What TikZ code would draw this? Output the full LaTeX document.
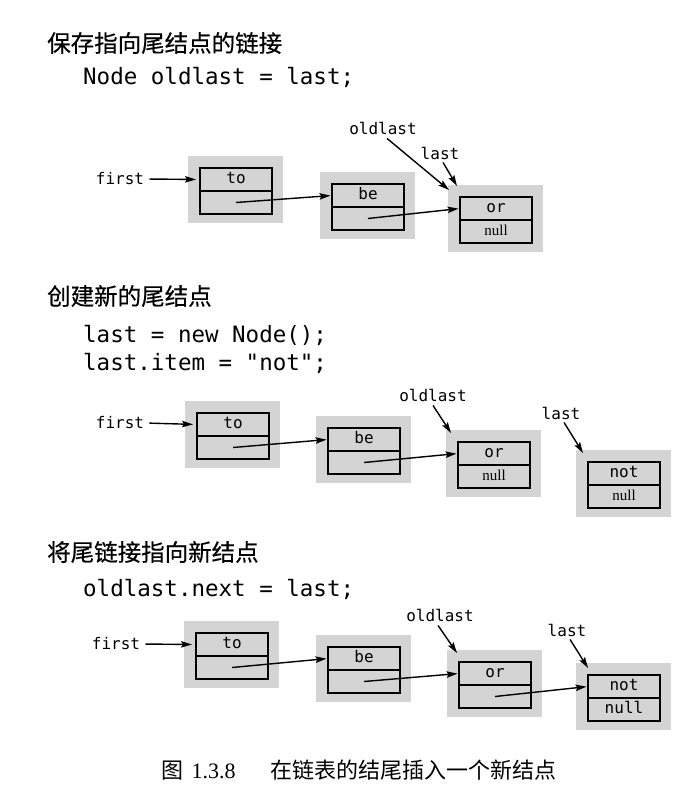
\documentclass[tikz,border=0pt]{standalone}
\usepackage{fontspec}
\newfontfamily\cjk[FakeBold=0.4]{Noto Sans CJK SC}
\newfontfamily\cjkcap{Noto Sans CJK SC}
\newfontfamily\codefont{DejaVu Sans Mono}
\newfontfamily\tnr{Liberation Serif}
\usetikzlibrary{arrows.meta}
\tikzset{
  gbox/.style={fill=black!17, draw=none, minimum width=95pt, minimum height=67pt, inner sep=0pt, outer sep=0pt, anchor=north west},
  field/.style={draw=black, line width=2.1pt, minimum width=72pt, minimum height=23pt, inner sep=0pt, outer sep=0pt, text height=8.5pt, text depth=0pt, font=\codefont\fontsize{16}{16}\selectfont},
  lbl/.style={font=\codefont\fontsize{16}{16}\selectfont, inner sep=1pt},
  ptr/.style={-{Stealth[length=11pt,width=6.5pt,inset=2pt]}, line width=1.4pt},
  title/.style={font=\cjk\fontsize{23.5}{23.5}\selectfont, anchor=west, inner sep=0pt},
  code/.style={font=\codefont\fontsize{22.5}{22.5}\selectfont, anchor=base west, inner sep=0pt},
  caption/.style={font=\fontsize{22}{22}\selectfont, inner sep=0pt}
}
\newcommand\mklnode[5]{%
  \node[gbox] (#1g) at (#2-12,#3-12) {};
  \node[field, anchor=north west] (#1t) at (#2,#3) {#4};
  \node[field, anchor=north] (#1b) at (#1t.south) {#5};
}
\newcommand\tnull{{\tnr\fontsize{15}{15}\selectfont null}}
\begin{document}
\begin{tikzpicture}[x=1pt,y=-1pt]
\useasboundingbox (0,0) rectangle (689,799);
\fill[white] (0,0) rectangle (689,799);

% ---------- section 1 ----------
\node[title] (t1) at (47,43) {保存指向尾结点的链接};
\node[code] (k1) at (83,85) {Node oldlast = last;};

\mklnode{a1}{200}{168}{to}{}
\mklnode{a2}{332}{184}{be}{}
\mklnode{a3}{460}{197}{or}{\tnull}
\node[lbl] (f1) at (120,179) {first};
\node[lbl] (o1) at (383,128) {oldlast};
\node[lbl] (l1) at (440,153) {last};
\coordinate (o1e) at ([shift={(1,5)}]a3g.north west);
\coordinate (l1e) at ([shift={(9,1)}]a3g.north west);
\draw[ptr, shorten <=4pt, shorten >=4pt] (f1.east) -- (a1t.west);
\draw[ptr] ([shift={(4,3)}]o1.south) -- (o1e);
\draw[ptr] ([shift={(3,2)}]l1.south) -- (l1e);
\draw[ptr, shorten >=1.5pt] (a1b.center) -- (a2t.west);
\draw[ptr, shorten >=1.5pt] (a2b.center) -- (a3t.west);

% ---------- section 2 ----------
\node[title] (t2) at (47,296) {创建新的尾结点};
\node[code] (k2) at (83,342) {last = new Node();};
\node[code] (k3) at (83,370) {last.item = "not";};

\mklnode{b1}{197}{413}{to}{}
\mklnode{b2}{328}{428}{be}{}
\mklnode{b3}{458}{442}{or}{\tnull}
\mklnode{b4}{588}{462}{not}{\tnull}
\node[lbl] (f2) at (120,423) {first};
\node[lbl] (o2) at (433,395) {oldlast};
\node[lbl] (l2) at (561,413) {last};
\coordinate (o2e) at ([shift={(5,3)}]b3g.north west);
\coordinate (l2e) at ([shift={(7,3)}]b4g.north west);
\draw[ptr, shorten <=4pt, shorten >=4pt] (f2.east) -- (b1t.west);
\draw[ptr] ([shift={(0,3)}]o2.south) -- (o2e);
\draw[ptr] ([shift={(3,2)}]l2.south) -- (l2e);
\draw[ptr, shorten >=1.5pt] (b1b.center) -- (b2t.west);
\draw[ptr, shorten >=1.5pt] (b2b.center) -- (b3t.west);

% ---------- section 3 ----------
\node[title] (t3) at (47,552) {将尾链接指向新结点};
\node[code] (k4) at (83,596) {oldlast.next = last;};

\mklnode{c1}{196}{633}{to}{}
\mklnode{c2}{328}{647}{be}{}
\mklnode{c3}{459}{662}{or}{}
\mklnode{c4}{588}{675}{not}{null}
\node[lbl] (f3) at (116,644) {first};
\node[lbl] (o3) at (440,615) {oldlast};
\node[lbl] (l3) at (567,630) {last};
\coordinate (o3e) at ([shift={(10,3)}]c3g.north west);
\coordinate (l3e) at ([shift={(12,5)}]c4g.north west);
\draw[ptr, shorten <=4pt, shorten >=4pt] (f3.east) -- (c1t.west);
\draw[ptr] ([shift={(-2,3)}]o3.south) -- (o3e);
\draw[ptr] ([shift={(3,2)}]l3.south) -- (l3e);
\draw[ptr, shorten >=1.5pt] (c1b.center) -- (c2t.west);
\draw[ptr, shorten >=1.5pt] (c2b.center) -- (c3t.west);
\draw[ptr, shorten >=1.5pt] (c3b.center) -- (c4t.west);

% ---------- caption ----------
\node[caption] (cap) at (359,770) {{\cjkcap 图}\hspace{8pt}{\tnr 1.3.8}\hspace{35pt}{\cjkcap 在链表的结尾插入一个新结点}};
\end{tikzpicture}
\end{document}
